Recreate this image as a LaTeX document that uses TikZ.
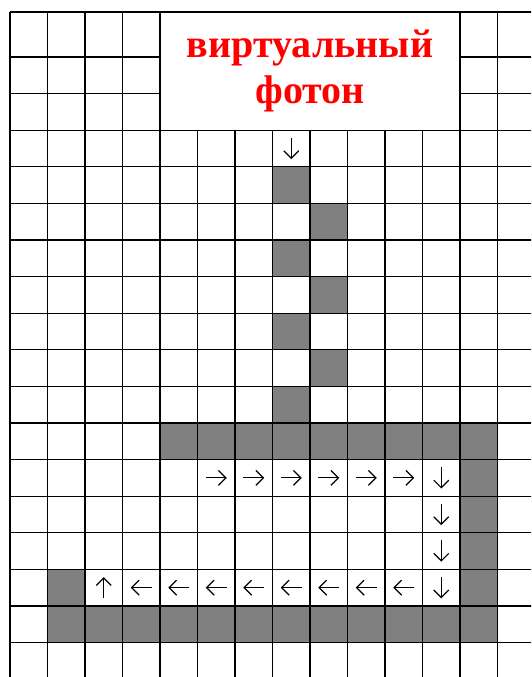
\documentclass[tikz,border=0pt]{standalone}
\usepackage{fontspec}
\setmainfont{Liberation Serif}
\usetikzlibrary{arrows.meta,positioning}

\begin{document}
\begin{tikzpicture}[
    x=37.5pt, y=-36.6pt,
    grid/.style={line width=1.3pt, black},
    wall/.style={fill=black!50},
    title/.style={draw, line width=1.3pt, fill=white, minimum width=300pt, minimum height=118.2pt, inner sep=0pt, align=center, text=red, font=\fontsize{40}{46}\selectfont\bfseries},
    dir/.style={-{Straight Barb[length=7.5pt, width=15pt, line width=1.2pt]}, line width=1.2pt}
]
\useasboundingbox (-0.267,-0.557) rectangle (13.893,17.94);
\clip (-0.267,-0.557) rectangle (13.893,17.94);

% grey cells
\foreach \c/\r in {7/4, 8/5, 7/6, 8/7, 7/8, 8/9, 7/10, 1/15}
  \fill[wall] (\c,\r) rectangle ++(1,1);
\fill[wall] (4,11) rectangle (13,12);
\fill[wall] (12,12) rectangle (13,17);
\fill[wall] (1,16) rectangle (12,17);

% grid
\foreach \c in {0,...,14}
  \draw[grid] (\c,-0.23) -- (\c,18);
\draw[grid] (0,-0.23) -- (14,-0.23);
\foreach \r in {1,...,18}
  \draw[grid] (0,\r) -- (14,\r);

% title
\node[title] (title) at (8,1.385) {виртуальный\\фотон};

% arrows
\draw[dir] (7.5,3.21) -- (7.5,3.79);
\foreach \c in {5,...,10}
  \draw[dir] (\c+0.22,12.5) -- (\c+0.78,12.5);
\foreach \r in {12,...,15}
  \draw[dir] (11.5,\r+0.21) -- (11.5,\r+0.79);
\foreach \c in {3,...,10}
  \draw[dir] (\c+0.78,15.5) -- (\c+0.22,15.5);
\draw[dir] (2.5,15.79) -- (2.5,15.21);
\end{tikzpicture}
\end{document}
